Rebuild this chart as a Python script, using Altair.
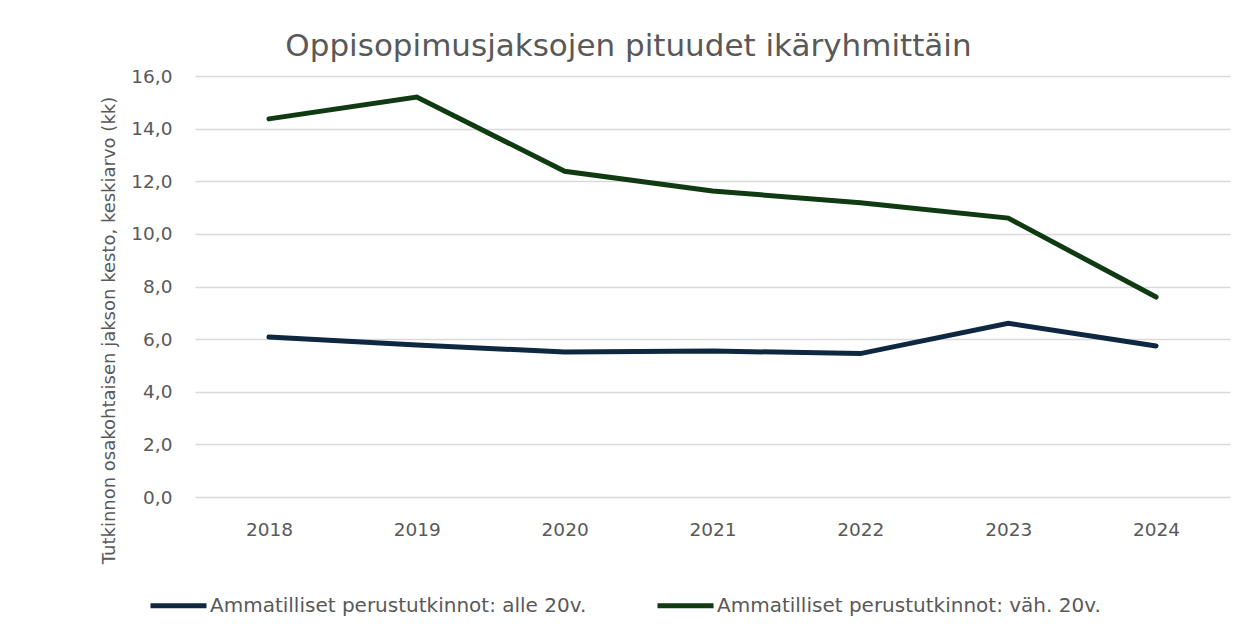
import altair as alt
import pandas as pd

years = ["2018", "2019", "2020", "2021", "2022", "2023", "2024"]
series_names = ["Ammatilliset perustutkinnot: alle 20v.", "Ammatilliset perustutkinnot: väh. 20v."]
alle20 = [6.08, 5.78, 5.51, 5.55, 5.45, 6.6, 5.74]
vah20 = [14.37, 15.2, 12.38, 11.63, 11.18, 10.6, 7.6]
colors = ["#0E2841", "#0F3A12"]

rows = []
for y, v in zip(years, alle20):
    rows.append({"Vuosi": y, "Sarja": series_names[0], "Arvo": v})
for y, v in zip(years, vah20):
    rows.append({"Vuosi": y, "Sarja": series_names[1], "Arvo": v})
df = pd.DataFrame(rows)

FONT = "DejaVu Sans"
TXT = "#595959"

chart = alt.Chart(df).mark_line(strokeWidth=5, strokeCap="round", strokeJoin="miter").encode(
    x=alt.X("Vuosi:N", sort=years, title=None,
            scale=alt.Scale(type="point", padding=0.5),
            axis=alt.Axis(labelAngle=0, ticks=False, domain=False, grid=False,
                          labelFontSize=18.5, labelColor=TXT, labelFont=FONT, labelPadding=23)),
    y=alt.Y("Arvo:Q", title="Tutkinnon osakohtaisen jakson kesto, keskiarvo (kk)",
            scale=alt.Scale(domain=[0, 16], nice=False),
            axis=alt.Axis(values=[0, 2, 4, 6, 8, 10, 12, 14, 16],
                          labelExpr="replace(format(datum.value, '.1f'), '.', ',')",
                          ticks=False, domain=False, gridColor="#D9D9D9", gridWidth=1.5,
                          labelFontSize=18.5, labelColor=TXT, labelFont=FONT, labelPadding=23,
                          titleFontSize=18, titleColor=TXT, titleFont=FONT, titleFontWeight="normal",
                          titleAngle=-90, titleAlign="center", titleBaseline="middle",
                          titleX=-86, titleY=254)),
    color=alt.Color("Sarja:N", sort=series_names,
                    scale=alt.Scale(domain=series_names, range=colors),
                    legend=alt.Legend(title=None, orient="none", direction="horizontal",
                                      legendX=-47, legendY=499,
                                      symbolType="stroke", symbolSize=3136, symbolStrokeWidth=5,
                                      labelFontSize=20, labelColor=TXT, labelFont=FONT,
                                      labelOffset=1, columnPadding=60, labelLimit=600)),
).properties(
    width=1035,
    height=421,
    title=alt.TitleParams("Oppisopimusjaksojen pituudet ikäryhmittäin", fontSize=31,
                          font=FONT, color=TXT, fontWeight="normal", anchor="middle",
                          dx=-84, offset=4),
    autosize=alt.AutoSizeParams(type="none"),
    padding={"left": 187, "top": 68, "right": 5, "bottom": 125},
).configure(background="white").configure_view(stroke=None)

chart.save("out.html", embed_options={"renderer": "svg", "actions": False})
